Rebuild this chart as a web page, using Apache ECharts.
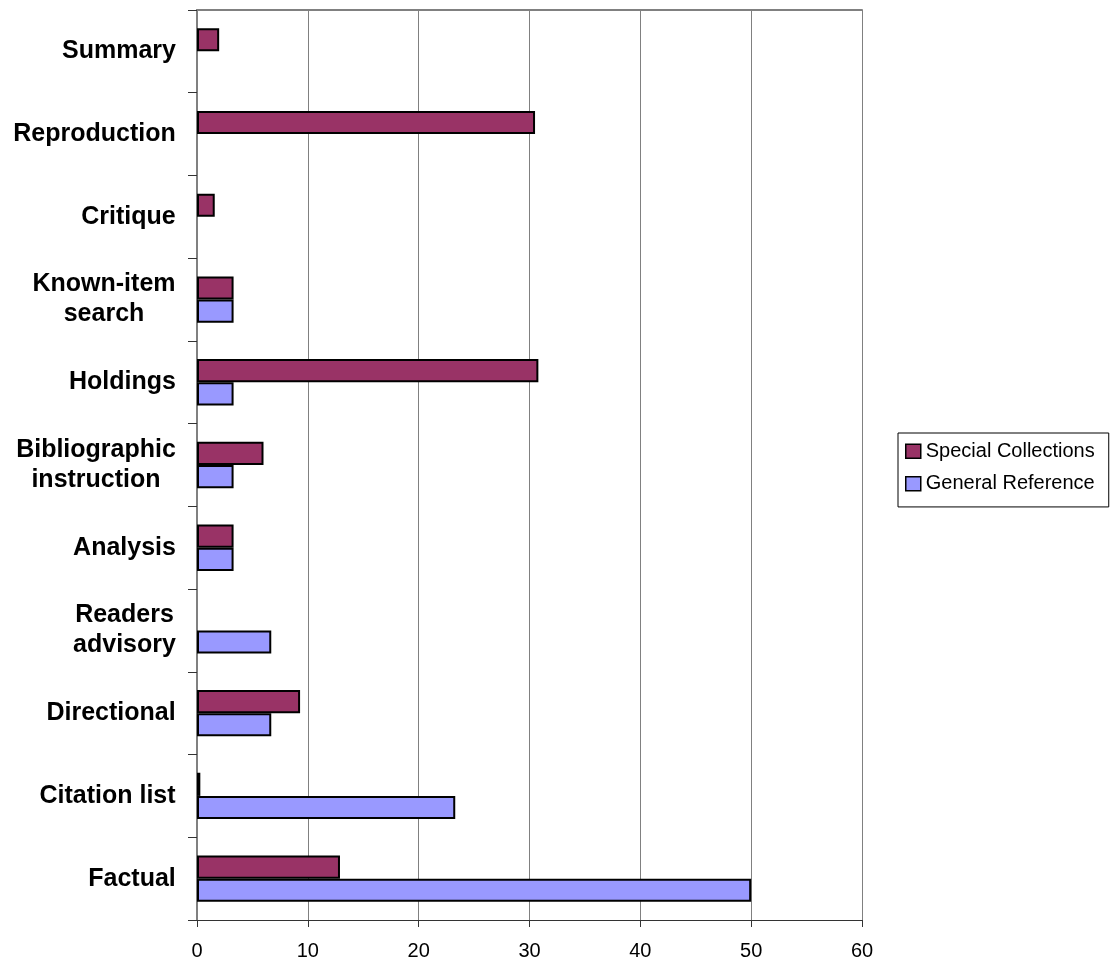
<html>

<head>
    <script src="https://cdnjs.cloudflare.com/ajax/libs/echarts/6.0.0/echarts.min.js"></script>
    <style>
        body {
            margin: 0;
            background: #fff;
        }

        #graph {
            width: 1110px;
            height: 965px;
        }
    </style>
</head>

<body>
    <div id="graph"></div>
    <script>
        // categories listed bottom to top
        var categories = ['Factual', 'Citation list', 'Directional', 'Readers\nadvisory', 'Analysis',
            'Bibliographic\ninstruction', 'Holdings', 'Known-item\nsearch', 'Critique', 'Reproduction', 'Summary'];
        var specialCollections = [12.9, 0.3, 9.3, null, 3.3, 6.0, 30.8, 3.3, 1.6, 30.5, 2.0];
        var generalReference = [50, 23.3, 6.7, 6.7, 3.3, 3.3, 3.3, 3.3, null, null, null];
        var xTicks = [0, 10, 20, 30, 40, 50, 60];
        var seriesNames = ['Special Collections', 'General Reference'];

        var labelFont = 'bold 25px "Liberation Sans", Arial, sans-serif';

        // multi-line labels: lines centered inside a block that is right aligned
        var ctx = document.createElement('canvas').getContext('2d');
        ctx.font = labelFont;
        var rich = {};
        categories.forEach(function (c, i) {
            var w = 0;
            c.split('\n').forEach(function (line) {
                w = Math.max(w, ctx.measureText(line).width);
            });
            rich['l' + i] = {
                width: Math.ceil(w),
                align: 'center',
                fontSize: 25,
                fontWeight: 'bold',
                fontFamily: '"Liberation Sans", Arial, sans-serif',
                color: '#000',
                lineHeight: 30
            };
        });

        var chartDom = document.getElementById('graph');
        var myChart = echarts.init(chartDom, null, { renderer: 'canvas' });
        var option;
        option = {
            animation: false,
            backgroundColor: '#fff',
            textStyle: {
                fontFamily: '"Liberation Sans", Arial, sans-serif'
            },
            grid: {
                left: 197,
                right: 248,
                top: 10,
                bottom: 45,
                outerBoundsMode: 'none',
                containLabel: false
            },
            legend: {
                data: seriesNames,
                orient: 'vertical',
                left: 898,
                top: 433,
                padding: [1, 14, 6, 7],
                itemGap: -2,
                itemWidth: 15,
                itemHeight: 14,
                borderColor: '#000',
                borderWidth: 1,
                borderRadius: 0,
                icon: 'rect',
                itemStyle: {
                    borderColor: '#000',
                    borderWidth: 1.5
                },
                textStyle: {
                    fontSize: 20,
                    lineHeight: 20,
                    color: '#000'
                }
            },
            xAxis: [{
                type: 'value',
                min: xTicks[0],
                max: xTicks[xTicks.length - 1],
                interval: xTicks[1] - xTicks[0],
                axisLine: {
                    show: true,
                    lineStyle: { color: '#333', width: 1 }
                },
                axisTick: {
                    show: true,
                    length: 7,
                    lineStyle: { color: '#333' }
                },
                axisLabel: {
                    fontSize: 20,
                    color: '#000',
                    margin: 14
                },
                splitLine: {
                    show: true,
                    lineStyle: { color: '#808080', width: 1 }
                }
            }, {
                type: 'value',
                position: 'top',
                min: xTicks[0],
                max: xTicks[xTicks.length - 1],
                axisLine: {
                    show: true,
                    onZero: false,
                    lineStyle: { color: '#808080', width: 2 }
                },
                axisTick: { show: false },
                axisLabel: { show: false },
                splitLine: { show: false }
            }],
            yAxis: [{
                type: 'category',
                data: categories,
                axisLine: {
                    show: true,
                    lineStyle: { color: '#000', width: 1.5 }
                },
                axisTick: {
                    show: true,
                    length: 9,
                    lineStyle: { color: '#333' }
                },
                axisLabel: {
                    margin: 21,
                    formatter: function (value, index) {
                        return value.split('\n').map(function (line) {
                            return '{l' + index + '|' + line + '}';
                        }).join('\n');
                    },
                    rich: rich
                }
            }, {
                type: 'category',
                position: 'right',
                data: categories,
                axisLine: {
                    show: true,
                    lineStyle: { color: '#808080', width: 2 }
                },
                axisTick: { show: false },
                axisLabel: { show: false }
            }],
            series: [{
                name: seriesNames[0],
                type: 'bar',
                data: specialCollections,
                barGap: '0%',
                barCategoryGap: '44%',
                itemStyle: {
                    color: '#993366',
                    borderColor: '#000',
                    borderWidth: 2
                }
            }, {
                name: seriesNames[1],
                type: 'bar',
                data: generalReference,
                barGap: '0%',
                barCategoryGap: '44%',
                itemStyle: {
                    color: '#9999ff',
                    borderColor: '#000',
                    borderWidth: 2
                }
            }]
        };

        option && myChart.setOption(option);
    </script>
</body>

</html>
